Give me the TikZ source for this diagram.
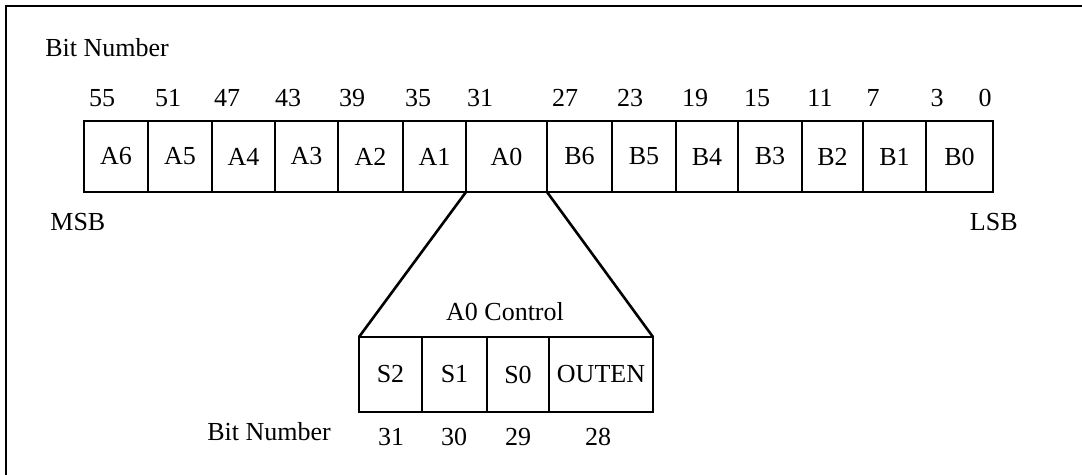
\documentclass[tikz,border=0pt]{standalone}
\usepackage{fontspec}
\setmainfont{Liberation Serif}
\usetikzlibrary{positioning}

\begin{document}
\begin{tikzpicture}[x=0.5pt,y=-0.5pt,
  cell/.style={draw,line width=1.3pt,inner sep=0pt,outer sep=0pt,anchor=center},
  lbl/.style={font=\fontsize{13}{15}\selectfont,inner sep=0pt}]
\useasboundingbox (0,0) rectangle (1082,475);
% frame
\draw[line width=1.3pt] (6,475) -- (6,6) -- (1082,6);
\node[lbl,anchor=west] (bittop) at (45,48) {Bit Number};
% register
\foreach \l/\r/\t/\n in {84/148/A6/a6,148/212/A5/a5,212/275/A4/a4,275/338/A3/a3,338/403/A2/a2,
  403/466/A1/a1,466/547/A0/a0,547/612/B6/b6,612/676/B5/b5,676/738/B4/b4,738/802/B3/b3,
  802/863/B2/b2,863/926/B1/b1,926/993/B0/b0}
  \node[cell,lbl,minimum height=35.5pt,minimum width={(\r-\l)*0.5pt}] (\n) at ({(\l+\r)/2},156.5) {\t};
\foreach \x/\b in {102/55,168/51,227/47,288/43,352/39,418/35,480/31,565/27,630/23,695/19,
  757/15,820/11,873/7,937/3,985/0}
  \node[lbl] (n\b) at (\x,98) {\b};
\node[lbl,anchor=west] (msb) at (50,222) {MSB};
\node[lbl,anchor=east] (lsb) at (1018,222) {LSB};
% A0 control field
\foreach \l/\r/\t/\n in {359/422/S2/s2,422/487/S1/s1,487/549/S0/s0,549/653/OUTEN/outen}
  \node[cell,lbl,minimum height=37.5pt,minimum width={(\r-\l)*0.5pt}] (\n) at ({(\l+\r)/2},374.5) {\t};
\node[lbl] (ctrl) at (505,312) {A0 Control};
\draw[line width=1.3pt] (a0.south west) -- (s2.north west);
\draw[line width=1.3pt] (a0.south east) -- (outen.north east);
\node[lbl,anchor=west] (bitbot) at (207,432) {Bit Number};
\node[lbl] (m31) at (391,437) {31};
\node[lbl] (m30) at (454,437) {30};
\node[lbl] (m29) at (518,437) {29};
\node[lbl] (m28) at (598,437) {28};
\end{tikzpicture}
\end{document}
